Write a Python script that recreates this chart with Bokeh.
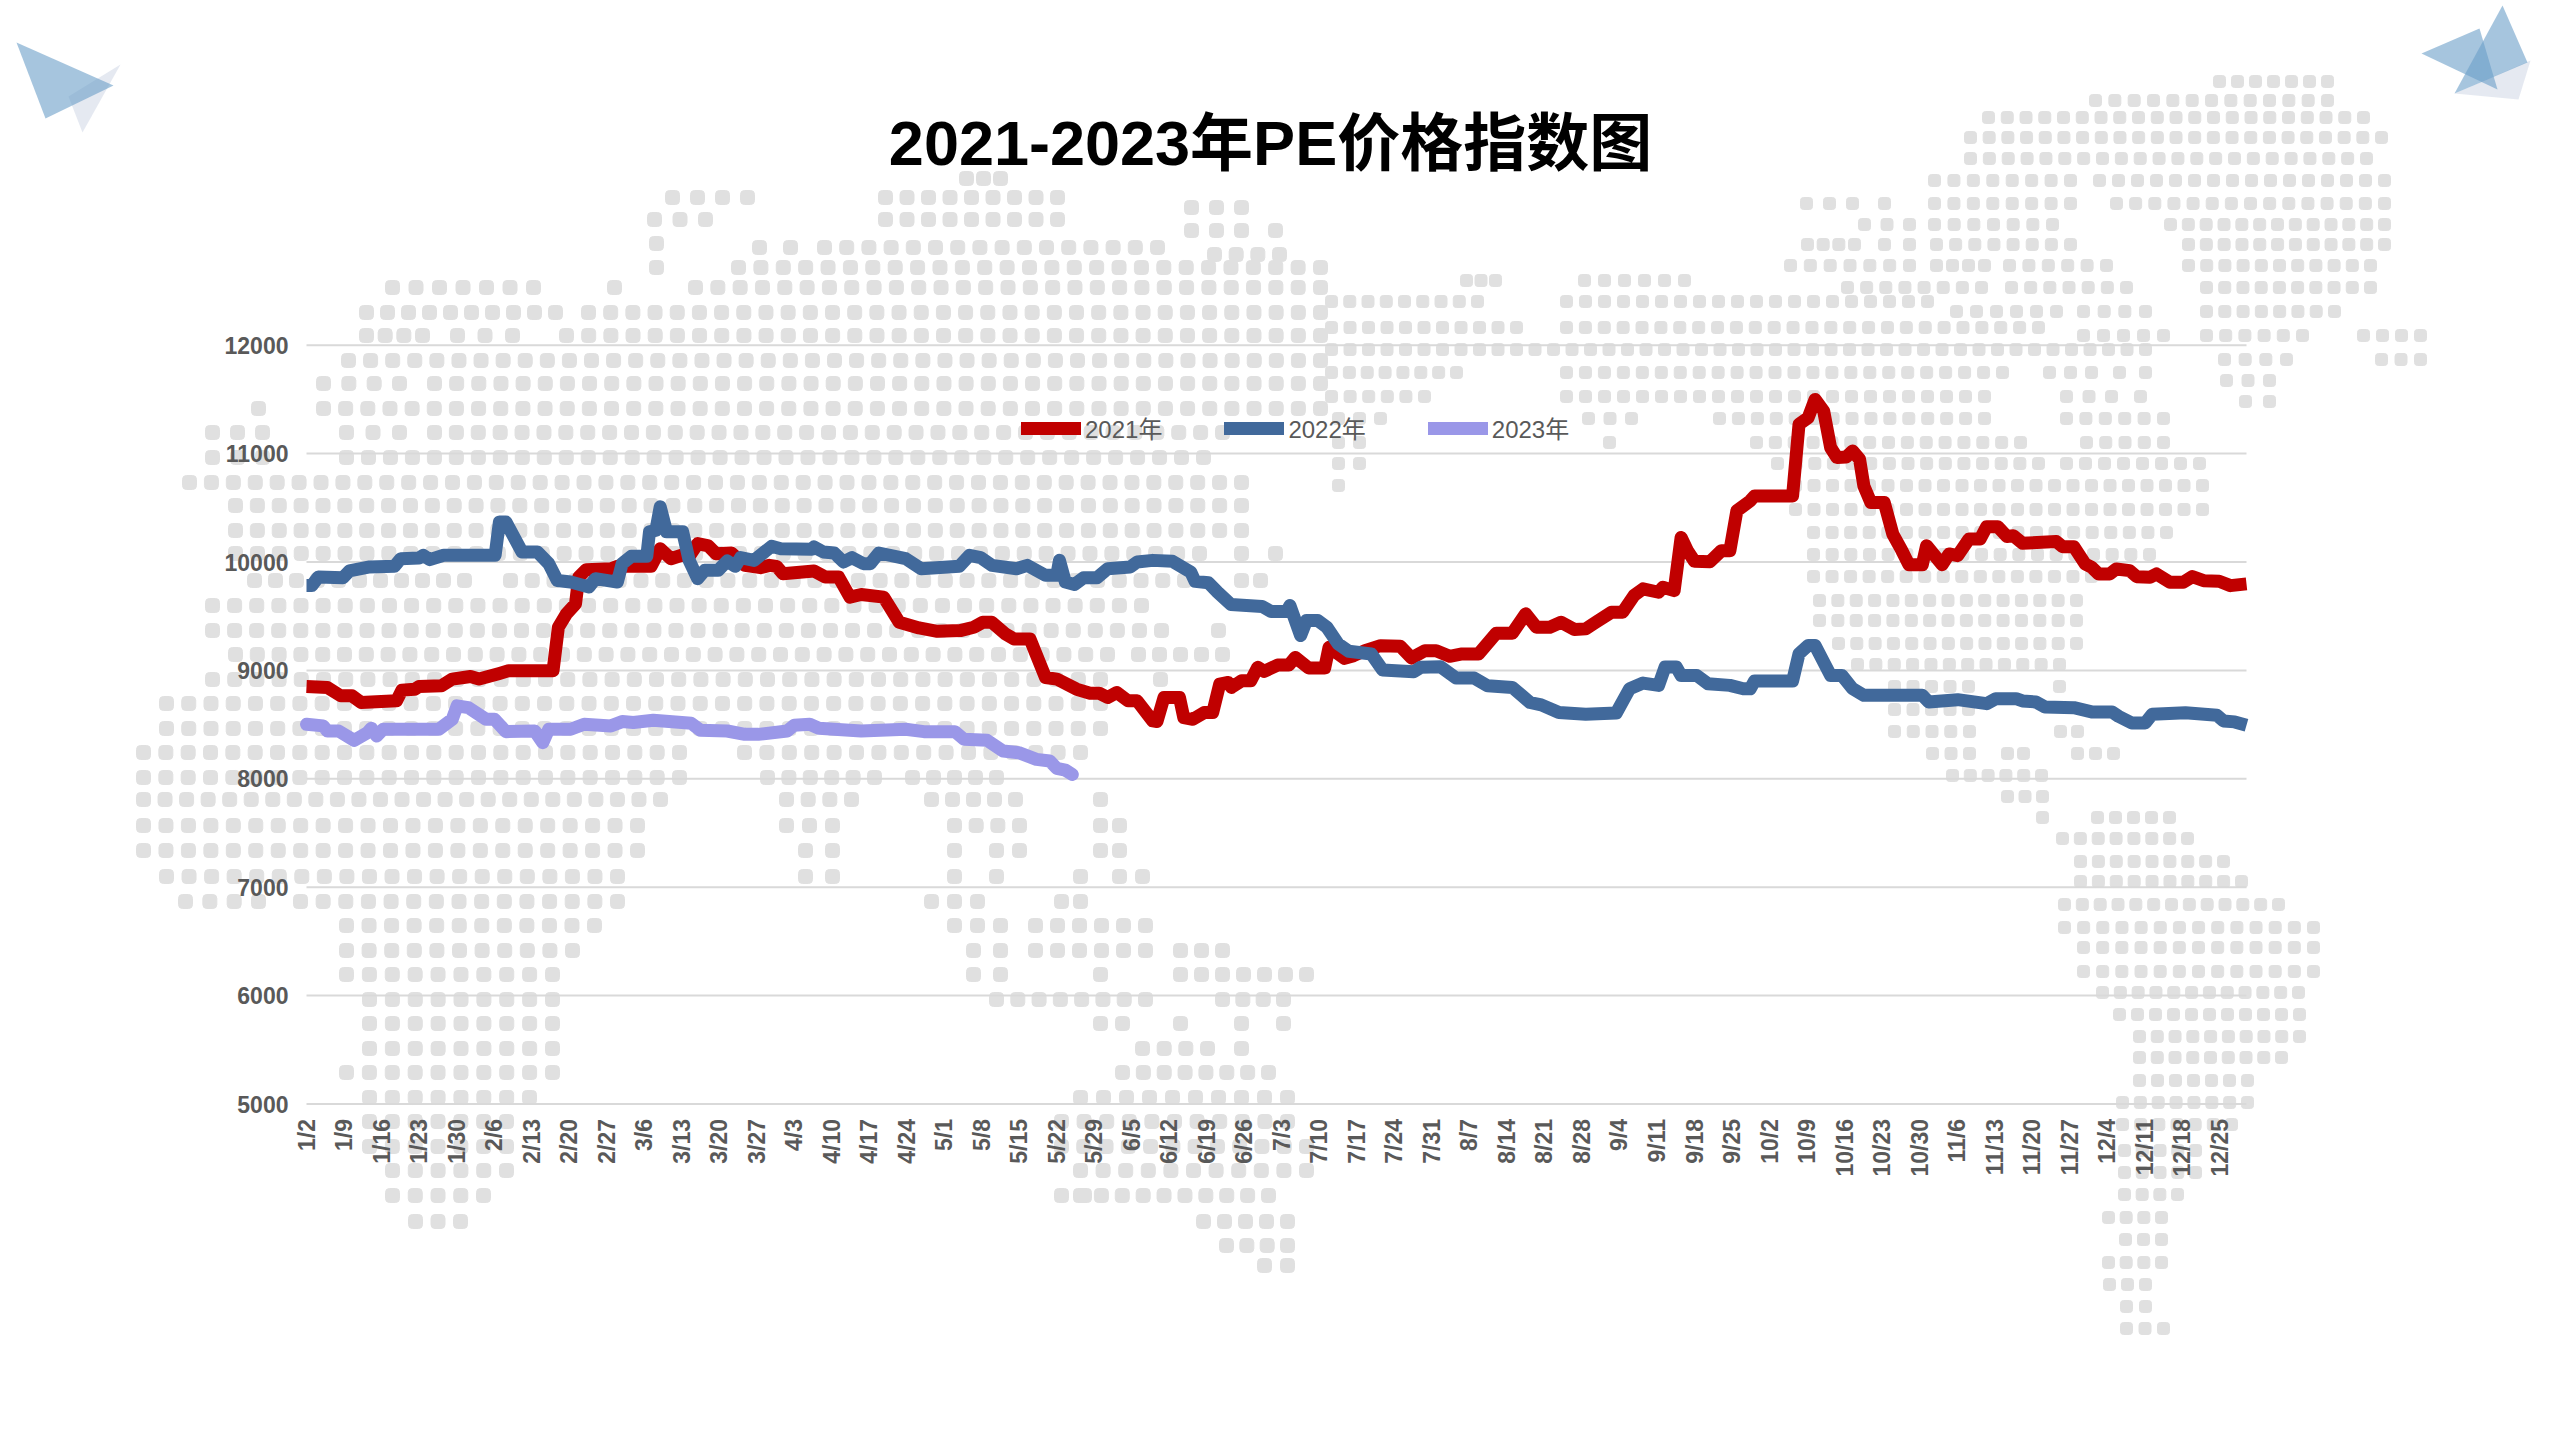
#!/usr/bin/python

import numpy as np
from bokeh.plotting import figure
from bokeh.embed import file_html
from bokeh.resources import INLINE
from bokeh.models import Range1d, Label, Legend, LegendItem, FixedTicker

title_text = "2021-2023年PE价格指数图"

y_ticks = [5000, 6000, 7000, 8000, 9000, 10000, 11000, 12000]
x_labels = ["1/2", "1/9", "1/16", "1/23", "1/30", "2/6", "2/13", "2/20", "2/27", "3/6", "3/13", "3/20", "3/27",
            "4/3", "4/10", "4/17", "4/24", "5/1", "5/8", "5/15", "5/22", "5/29", "6/5", "6/12", "6/19", "6/26",
            "7/3", "7/10", "7/17", "7/24", "7/31", "8/7", "8/14", "8/21", "8/28", "9/4", "9/11", "9/18", "9/25",
            "10/2", "10/9", "10/16", "10/23", "10/30", "11/6", "11/13", "11/20", "11/27", "12/4", "12/11", "12/18", "12/25"]
last_day = 362

# day = days since 1/2, read at the corners of each line
days_2021 = [0, 3.9, 6.4, 8.5, 10.2, 16.8, 17.8, 20.2, 21, 25.2, 27.2, 29.3, 30.6, 32.2, 36, 37.7, 46, 47, 48.5, 50.2,
             50.8, 52.2, 56.8, 58, 60.2, 64.3, 66, 68, 70, 71.5, 73, 75, 76.4, 79.3, 81.8, 84.7, 86.4, 87.7, 88.9, 94.7,
             96.8, 99.3, 101.4, 103.5, 107.7, 110.6, 114.3, 117.7, 122, 124.5, 126.2, 127.9, 130.4, 132, 135, 137.9,
             140, 143.7, 146.2, 147.9, 149.5, 151.2, 153.3, 155, 157.9, 158.7, 160, 162.9, 163.7, 165.4, 167.5, 169.1,
             170.4, 172, 172.6, 174.5, 176.2, 177.5, 178.7, 181.2, 183.3, 184.5, 187, 190, 190.8, 193.7, 195.4, 197.5,
             200.4, 204.1, 206.2, 208.7, 210.8, 213.3, 215.4, 218.7, 222, 225, 227.5, 229.5, 232, 234.1, 236.6, 238.7,
             240.4, 243.5, 245.6, 247.7, 249.4, 252.3, 253.1, 255.2, 256.5, 257.7, 259, 261.9, 264, 265.6, 266.9, 269.4,
             270.2, 277.3, 278.5, 280.2, 281.5, 283.1, 284.4, 285.6, 287.3, 288.5, 289.8, 290.6, 291.9, 294.4, 296,
             297.7, 299, 301.5, 302.3, 305.2, 306.5, 308.1, 310.2, 312.3, 313.5, 315.6, 317.3, 318.5, 320.2, 326.5,
             327.7, 329.8, 331.9, 333.1, 334.4, 336.5, 337.7, 340.2, 341.5, 344, 345.2, 347.7, 350.2, 351.9, 354, 356.9,
             359, 362]
values_2021 = [8852, 8843, 8765, 8765, 8704, 8719, 8818, 8827, 8852, 8858, 8920, 8935, 8944, 8920, 8972, 8997, 8997, 9398,
               9522, 9614, 9861, 9929, 9938, 9960, 9960, 9960, 10123, 10030, 10062, 10060, 10170, 10148, 10077, 10083,
               9969, 9948, 9969, 9960, 9892, 9917, 9861, 9861, 9676, 9700, 9676, 9444, 9392, 9361, 9367, 9398, 9444, 9444,
               9336, 9290, 9290, 8935, 8920, 8827, 8790, 8790, 8750, 8796, 8719, 8719, 8534, 8528, 8750, 8750, 8565, 8549,
               8611, 8611, 8873, 8889, 8843, 8904, 8904, 9028, 8991, 9049, 9049, 9120, 9022, 9022, 9213, 9111, 9136, 9182,
               9228, 9222, 9114, 9182, 9182, 9130, 9151, 9151, 9343, 9343, 9522, 9398, 9398, 9444, 9377, 9383, 9438, 9537,
               9537, 9690, 9752, 9721, 9767, 9736, 10227, 10104, 10006, 10003, 10104, 10104, 10472, 10564, 10610, 10610,
               11270, 11331, 11500, 11393, 11055, 10963, 10969, 11025, 10948, 10702, 10549, 10549, 10258, 10104, 9975, 9975,
               10150, 9975, 10074, 10058, 10212, 10212, 10325, 10325, 10236, 10242, 10172, 10190, 10141, 10141, 9982, 9951,
               9890, 9890, 9936, 9920, 9865, 9859, 9890, 9813, 9813, 9865, 9828, 9822, 9782, 9798]

days_2022 = [0, 1, 2.2, 6.8, 8, 11.8, 16.4, 17.6, 21, 21.8, 23, 25.6, 35.2, 36, 37.2, 40.2, 43.1, 45.2, 46.8, 49.3, 52.7,
             53.9, 58, 58.9, 60.6, 63.5, 64, 65.2, 66, 67.2, 70.2, 71.4, 73, 74.3, 76.8, 78.5, 80, 81, 83.5, 86.8, 88.5,
             94.3, 94.7, 96.4, 98.5, 100.2, 101.8, 103.9, 105.2, 106.8, 111.8, 114.7, 121.8, 123.7, 125.8, 127.9, 132.5,
             134.5, 137.9, 140, 140.5, 141.6, 143.3, 145, 147.5, 149.5, 153.7, 155, 157.9, 161.6, 165, 165.8, 168.3, 170,
             172.5, 178.3, 180, 182.9, 183.5, 184.5, 185.5, 186.6, 188.7, 190.4, 192.5, 194.5, 198.7, 200.8, 206.6, 207.9,
             211.6, 214.5, 217.9, 220.4, 225, 228.3, 230.4, 233.7, 238.7, 244.4, 246.9, 249.4, 252.3, 253.5, 255.6, 256.5,
             259.4, 261.5, 265.6, 268.1, 269.4, 270.2, 277.3, 278.5, 280.2, 281.5, 284.4, 286.5, 288.5, 290.6, 301.5, 302.7,
             308.1, 313.5, 315.2, 319, 320.2, 322.7, 324.4, 329.8, 333.1, 336.9, 338.1, 340.6, 343.1, 344.4, 346.5, 350.6,
             356.5, 357.7, 359.8, 362]
values_2022 = [9784, 9784, 9861, 9855, 9917, 9954, 9960, 10031, 10037, 10062, 10022, 10062, 10062, 10370, 10370, 10093,
               10093, 9985, 9830, 9815, 9769, 9846, 9815, 9985, 10052, 10052, 10278, 10293, 10509, 10278, 10278, 10015,
               9846, 9923, 9923, 10009, 9960, 10040, 10015, 10145, 10123, 10117, 10139, 10093, 10083, 10000, 10040, 9985,
               9985, 10083, 10031, 9938, 9960, 10062, 10040, 9969, 9938, 9969, 9877, 9877, 10015, 9815, 9793, 9855, 9855,
               9938, 9954, 10000, 10015, 10006, 9907, 9821, 9809, 9722, 9608, 9590, 9543, 9543, 9599, 9460, 9321, 9460, 9460,
               9398, 9244, 9176, 9151, 9003, 8988, 9028, 9034, 8929, 8929, 8858, 8843, 8704, 8682, 8611, 8596, 8607, 8831,
               8883, 8862, 9031, 9031, 8954, 8954, 8877, 8862, 8831, 8831, 8902, 8902, 9153, 9230, 9230, 8954, 8954, 8831,
               8770, 8770, 8709, 8730, 8693, 8739, 8739, 8718, 8709, 8663, 8656, 8617, 8617, 8577, 8515, 8515, 8595, 8601,
               8610, 8586, 8534, 8525, 8494]

days_2023 = [0, 3.1, 3.9, 6, 8.9, 11.4, 12.1, 13.1, 14.3, 24.7, 27.2, 28.1, 30.2, 33.5, 35.1, 37.2, 42.6, 44.1, 45.2, 49.3,
             51.8, 56.8, 58.9, 61, 64.7, 71.8, 73.5, 78.5, 81.8, 84.3, 89.7, 91, 93.9, 95.6, 103.5, 111.8, 115.2, 121,
             122.7, 127, 130, 132.9, 136.2, 138.7, 140, 141.6, 142.9]
values_2023 = [8503, 8488, 8441, 8441, 8355, 8426, 8466, 8395, 8457, 8457, 8549, 8673, 8657, 8549, 8549, 8435, 8441, 8333,
               8457, 8457, 8503, 8488, 8528, 8519, 8540, 8512, 8448, 8441, 8410, 8410, 8441, 8494, 8503, 8466, 8441, 8457,
               8435, 8435, 8364, 8355, 8256, 8241, 8179, 8164, 8096, 8080, 8040]

# background dot map: (row y, [(first x, last x), ...]) in page pixels
map_west = [
    (178, [(966, 1000)]), (197, [(672, 747), (885, 1057)]), (207, [(1191, 1241)]),
    (219, [(654, 705), (885, 1057)]), (230, [(1191, 1241), (1275, 1275)]), (243, [(656, 656)]),
    (247, [(759, 790), (824, 1157)]), (254, [(1214, 1279)]), (267, [(656, 656), (738, 1320)]),
    (287, [(392, 533), (614, 614), (695, 1320)]), (312, [(366, 555), (588, 1320)]),
    (335, [(366, 422), (457, 512), (566, 1320)]), (360, [(348, 1320)]), (383, [(323, 399), (434, 1320)]),
    (408, [(258, 258), (323, 1320)]), (432, [(212, 262), (346, 399), (434, 1222)]),
    (457, [(212, 262), (346, 1203)]), (482, [(189, 1241)]), (505, [(235, 1241)]), (530, [(235, 1241)]),
    (553, [(235, 1199), (1241, 1241), (1275, 1275)]), (580, [(254, 464), (510, 1184), (1241, 1260)]),
    (605, [(212, 1141)]), (630, [(212, 1161), (1218, 1218)]), (654, [(235, 1107), (1138, 1222)]),
    (679, [(212, 1100), (1160, 1160)]), (703, [(166, 1100)]), (728, [(166, 1100)]),
    (752, [(143, 679), (744, 1080)]), (777, [(143, 679), (767, 874), (912, 996)]),
    (799, [(143, 660), (786, 851), (931, 1015), (1100, 1100)]),
    (825, [(143, 637), (786, 832), (954, 1019), (1100, 1119)]),
    (850, [(143, 637), (805, 832), (954, 954), (996, 1019), (1100, 1119)]),
    (876, [(166, 617), (805, 832), (954, 954), (996, 996), (1080, 1080), (1119, 1142)]),
    (901, [(185, 258), (300, 617), (931, 977), (1061, 1080)]),
    (925, [(346, 594), (954, 1000), (1035, 1145)]),
    (950, [(346, 572), (973, 1000), (1035, 1145), (1180, 1222)]),
    (974, [(346, 552), (973, 1000), (1100, 1100), (1180, 1306)]),
    (999, [(369, 552), (996, 1145), (1222, 1283)]),
    (1023, [(369, 552), (1100, 1122), (1180, 1180), (1241, 1241), (1283, 1283)]),
    (1048, [(369, 552), (1142, 1207), (1241, 1241)]), (1072, [(346, 552), (1122, 1268)]),
    (1097, [(369, 529), (1080, 1287)]), (1121, [(369, 506), (1061, 1287)]), (1146, [(369, 506), (1061, 1306)]),
    (1170, [(392, 506), (1080, 1306)]), (1195, [(392, 483), (1061, 1084), (1080, 1268)]),
    (1221, [(415, 460), (1203, 1287)]), (1245, [(1226, 1287)]), (1265, [(1264, 1287)]),
]
map_east = [
    (81, [(2219, 2327)]), (100, [(2095, 2327)]), (117, [(1988, 2363)]), (137, [(1970, 2381)]), (158, [(1970, 2366)]),
    (180, [(1934, 2070), (2099, 2384)]), (203, [(1806, 1852), (1884, 1884), (1934, 2070), (2116, 2384)]),
    (224, [(1864, 1909), (1934, 2052), (2170, 2384)]), (244, [(1807, 1854), (1884, 1909), (1936, 2070), (2188, 2384)]),
    (265, [(1790, 1909), (1936, 1984), (2009, 2106), (2188, 2370)]), (280, [(1466, 1495), (1584, 1684)]),
    (287, [(1847, 1981), (2011, 2126), (2206, 2370)]), (301, [(1331, 1477), (1566, 1927)]),
    (311, [(1956, 2056), (2083, 2145), (2206, 2334)]), (327, [(1331, 1516), (1566, 2038)]),
    (335, [(2083, 2163), (2206, 2302), (2363, 2420)]), (349, [(1331, 2145)]),
    (359, [(2224, 2286), (2381, 2420)]), (372, [(1331, 1456), (1566, 2002), (2049, 2091), (2119, 2145)]),
    (380, [(2226, 2269)]), (396, [(1331, 1424), (1566, 1984), (2066, 2111), (2140, 2140)]), (401, [(2245, 2269)]),
    (418, [(1338, 1380), (1588, 1631), (1719, 1984), (2066, 2163)]),
    (442, [(1338, 1359), (1609, 1609), (1756, 2020), (2086, 2163)]),
    (463, [(1338, 1359), (1777, 2038), (2066, 2199)]), (485, [(1338, 1338), (1795, 2202)]), (509, [(1795, 2202)]),
    (532, [(1813, 2166)]), (554, [(1813, 2149)]), (576, [(1813, 2091)]), (600, [(1819, 2076)]), (620, [(1819, 2076)]),
    (643, [(1838, 2076)]), (664, [(1857, 2059)]), (686, [(1894, 1968), (2059, 2059)]), (709, [(1894, 1968)]),
    (731, [(1894, 1969), (2060, 2077)]), (753, [(1932, 1969), (2007, 2023), (2077, 2113)]), (775, [(1952, 2041)]),
    (796, [(2007, 2042)]), (817, [(2042, 2042), (2097, 2169)]), (838, [(2062, 2187)]), (861, [(2080, 2223)]),
    (881, [(2080, 2241)]), (904, [(2064, 2278)]), (927, [(2064, 2313)]), (947, [(2083, 2313)]), (971, [(2083, 2313)]),
    (992, [(2102, 2298)]), (1014, [(2119, 2299)]), (1036, [(2139, 2299)]), (1057, [(2139, 2281)]), (1080, [(2139, 2247)]),
    (1102, [(2122, 2247)]), (1124, [(2122, 2231)]), (1150, [(2124, 2195)]), (1172, [(2124, 2195)]), (1194, [(2124, 2177)]),
    (1217, [(2108, 2161)]), (1239, [(2125, 2161)]), (1262, [(2108, 2161)]), (1284, [(2109, 2145)]), (1306, [(2126, 2145)]),
    (1328, [(2126, 2163)]),
]

# corner planes in page pixels
plane_xs = [[16, 113, 45], [2421, 2479, 2497], [2502, 2527, 2454]]
plane_ys = [[42, 85, 118], [53, 28, 89], [5, 62, 93]]
pale_xs = [[120, 68, 82], [2530, 2518, 2454]]
pale_ys = [[64, 96, 132], [60, 99, 93]]


def map_dots(rows, pitch):
    xs, ys = [], []
    for y, runs in rows:
        for x0, x1 in runs:
            n = int(round((x1 - x0) / pitch))
            for x in np.linspace(x0, x1, n + 1):
                xs.append(float(x))
                ys.append(y)
    return xs, ys


# frame fills the page so the map can run past the chart; plot area is x 306-2246, y 345-1103
px_day = (2246 - 306) / last_day
px_unit = (1103.5 - 344.7) / 7000

p = figure(width=2544, height=1424, output_backend="svg", toolbar_location=None, min_border=0,
           x_range=Range1d((0 - 306) / px_day, (2544 - 306) / px_day),
           y_range=Range1d(5000 - (1424 - 1103.5) / px_unit, 5000 + 1103.5 / px_unit))
p.extra_x_ranges = {"page_x": Range1d(0, 2544)}
p.extra_y_ranges = {"page_y": Range1d(1424, 0)}
p.outline_line_color = None
p.grid.visible = False

xs, ys = map_dots(map_west, 22)
p.rect(xs, ys, width=14, height=14, width_units="screen", height_units="screen", color="#E0E0E0", border_radius=4,
       x_range_name="page_x", y_range_name="page_y")
xs, ys = map_dots(map_east, 18.6)
p.rect(xs, ys, width=12, height=12, width_units="screen", height_units="screen", color="#E0E0E0", border_radius=3,
       x_range_name="page_x", y_range_name="page_y")

p.patches(pale_xs, pale_ys, color="#BFC9DC", alpha=0.4, line_color=None, x_range_name="page_x", y_range_name="page_y")
p.patches(plane_xs, plane_ys, color="#6A9EC8", alpha=0.6, line_color=None, x_range_name="page_x", y_range_name="page_y")

# gridlines stop at the plot area, so no Grid here
p.segment([0] * len(y_ticks), y_ticks, [last_day] * len(y_ticks), y_ticks, line_color="#D9D9D9", line_width=2)

# 2021/2022 stop square at the plot edges, only their legend samples are round
p.line(days_2021, values_2021, line_color="#C00000", line_width=13, line_join="round", line_cap="butt")
p.line(days_2022, values_2022, line_color="#41699B", line_width=13, line_join="round", line_cap="butt")
r2023 = p.line(days_2023, values_2023, line_color="#9A97E8", line_width=13, line_join="round", line_cap="round")
# one point draws nothing on the chart, an empty source would drop the sample
key2021 = p.line(days_2021[:1], values_2021[:1], line_color="#C00000", line_width=13, line_cap="round")
key2022 = p.line(days_2022[:1], values_2022[:1], line_color="#41699B", line_width=13, line_cap="round")

p.xaxis.fixed_location = 5000
p.xaxis.ticker = FixedTicker(ticks=[7 * i for i in range(len(x_labels))])
p.xaxis.major_label_overrides = {7 * i: lab for i, lab in enumerate(x_labels)}
p.xaxis.major_label_orientation = np.pi / 2
p.xaxis.major_label_standoff = 9
p.yaxis.fixed_location = 0
p.yaxis.ticker = FixedTicker(ticks=y_ticks)
p.yaxis.major_label_standoff = 12
for ax in [p.xaxis, p.yaxis]:
    ax.axis_line_color = None
    ax.major_tick_line_color = None
    ax.minor_tick_line_color = None
    ax.major_label_text_font = "Liberation Sans"
    ax.major_label_text_font_style = "bold"
    ax.major_label_text_font_size = "23px"
    ax.major_label_text_color = "#595959"

p.add_layout(Label(x=1270, y=142, text=title_text, text_font="Liberation Sans, Noto Sans CJK SC",
                   text_font_style="bold", text_font_size="63px", text_color="#000000", text_align="center",
                   text_baseline="middle", x_range_name="page_x", y_range_name="page_y"))

legend = Legend(items=[LegendItem(label="2021年", renderers=[key2021]), LegendItem(label="2022年", renderers=[key2022]),
                       LegendItem(label="2023年", renderers=[r2023])],
                orientation="horizontal", location=(1021, 979), glyph_width=60, glyph_height=30, label_height=30,
                label_standoff=4, spacing=62, padding=0, margin=0, border_line_color=None, background_fill_alpha=0,
                label_text_font="Liberation Sans, Noto Sans CJK SC", label_text_font_size="24px",
                label_text_color="#595959")
p.add_layout(legend, "center")

open("out.html", "w").write(file_html(p, INLINE))
